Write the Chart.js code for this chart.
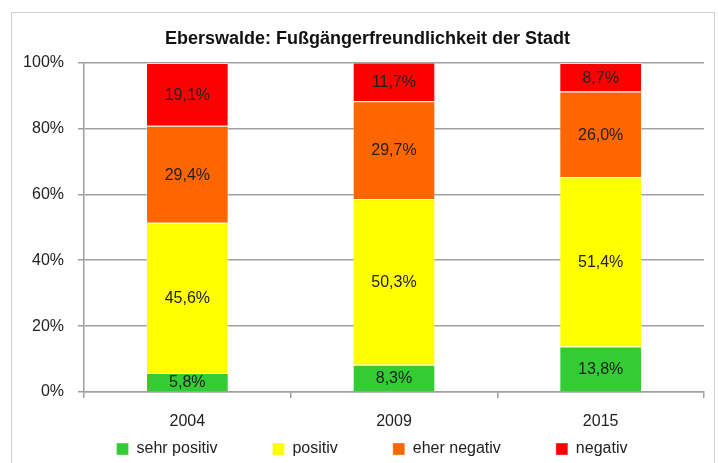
<!DOCTYPE html>
<html>
<head>
<meta charset="utf-8">
<script src="https://cdn.jsdelivr.net/npm/chart.js@4/dist/chart.umd.min.js"></script>
<style>
  html, body { margin: 0; padding: 0; background: #fff; }
  #wrap { position: absolute; left: 11px; top: 12px; width: 702px; height: 460px; border: 1px solid #d0d0d0; border-bottom: none; }
  #frame { position: absolute; left: 0; top: 0; width: 718px; height: 463px; }
</style>
</head>
<body>
<div id="wrap"></div>
<div id="frame"><canvas id="chart" width="718" height="463"></canvas></div>
<script>
// Eberswalde survey - share of answers per year
const years = ['2004', '2009', '2015'];
const sehrPositiv = [5.8, 8.3, 13.8];
const positiv = [45.6, 50.3, 51.4];
const eherNegativ = [29.4, 29.7, 26.0];
const negativ = [19.1, 11.7, 8.7];
const yTicks = [0, 20, 40, 60, 80, 100];

const font = "'Liberation Sans', Arial, sans-serif";

// writes the value in the middle of every bar piece
const valueLabels = {
    id: 'valueLabels',
    afterDatasetsDraw(chart) {
        const ctx = chart.ctx;
        ctx.save();
        ctx.font = '16px ' + font;
        ctx.fillStyle = '#222';
        ctx.textAlign = 'center';
        ctx.textBaseline = 'middle';
        chart.data.datasets.forEach((ds, i) => {
            chart.getDatasetMeta(i).data.forEach((bar, j) => {
                const mid = (bar.y + bar.base) / 2;
                ctx.fillText(ds.data[j].toFixed(1).replace('.', ',') + '%', bar.x, mid + 1);
            });
        });
        ctx.restore();
    }
};

// legend keeps wide gaps between items, so move it under the axis labels;
// title and legend are centred over the plot rather than the whole canvas
const placeBoxes = {
    id: 'placeBoxes',
    afterLayout(chart) {
        const lg = chart.legend;
        if (lg) {
            lg.top = 386;
            lg.bottom = 463;
            lg.left = 40;
            lg.right = 704;
        }
        const tb = chart.titleBlock;
        if (tb) {
            tb.left = 31;
            tb.right = 704;
        }
    }
};

const dataset = (label, data, color) => ({
    label: label,
    data: data,
    backgroundColor: color,
    borderColor: 'rgba(255,255,255,0.35)',
    borderWidth: 1,
    categoryPercentage: 0.4,
    barPercentage: 1
});

new Chart(document.getElementById('chart'), {
    type: 'bar',
    data: {
        labels: years,
        datasets: [
            dataset('sehr positiv', sehrPositiv, '#33cc33'),
            dataset('positiv', positiv, '#ffff00'),
            dataset('eher negativ', eherNegativ, '#ff6600'),
            dataset('negativ', negativ, '#ff0000')
        ]
    },
    options: {
        responsive: false,
        animation: false,
        layout: { padding: { left: 12, right: 14, top: 22, bottom: 0 } },
        plugins: {
            title: {
                display: true,
                text: 'Eberswalde: Fußgängerfreundlichkeit der Stadt',
                color: '#111',
                font: { family: font, size: 18, weight: 'bold' },
                padding: { top: 6, bottom: 13 }
            },
            legend: {
                position: 'bottom',
                maxHeight: 29,
                labels: {
                    color: '#222',
                    font: { family: font, size: 16 },
                    boxWidth: 12,
                    boxHeight: 12,
                    padding: 55
                }
            },
            tooltip: { enabled: false }
        },
        scales: {
            x: {
                stacked: true,
                afterFit(scale) { scale.height = 42; },
                grid: {
                    offset: true,
                    drawOnChartArea: false,
                    drawTicks: true,
                    tickLength: 6,
                    color: '#a0a0a0',
                    lineWidth: 1.5
                },
                border: { color: '#a0a0a0', width: 1.5 },
                ticks: { color: '#222', font: { family: font, size: 16 }, padding: 14 }
            },
            y: {
                stacked: true,
                min: 0,
                max: 100,
                afterBuildTicks(scale) {
                    scale.ticks = yTicks.map(v => ({ value: v }));
                },
                afterFit(scale) { scale.width = 72; },
                grid: { color: '#a0a0a0', lineWidth: 1.5, tickLength: 6 },
                border: { color: '#a0a0a0', width: 1.5 },
                ticks: {
                    color: '#222',
                    font: { family: font, size: 16 },
                    padding: 14,
                    callback: v => v + '%'
                }
            }
        }
    },
    plugins: [valueLabels, placeBoxes]
});
</script>
</body>
</html>
